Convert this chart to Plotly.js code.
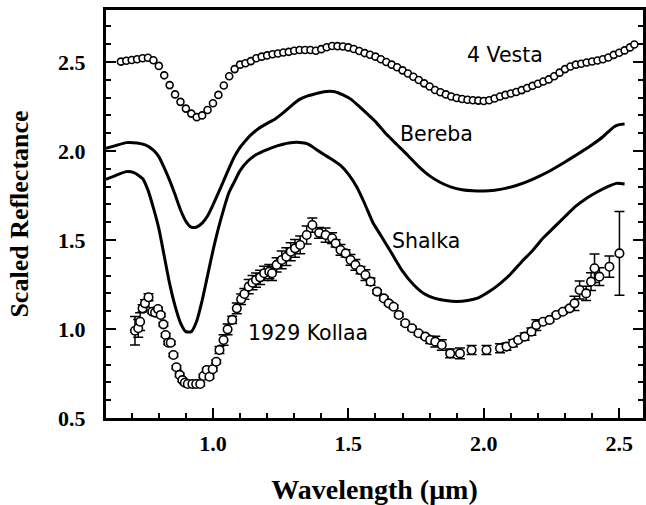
<!DOCTYPE html>
<html>
<head>
<meta charset="utf-8">
<script src="https://cdn.plot.ly/plotly-3.0.1.min.js"></script>
<style>html,body{margin:0;padding:0;background:#fff;}#chart{width:646px;height:505px;}</style>
</head>
<body>
<div id="chart"></div>
<script>
// 4 Vesta (open circles)
const vestaX = [0.66,0.68,0.70,0.72,0.74,0.76,0.78,0.80,0.82,0.84,0.86,0.88,0.90,0.92,0.94,0.96,0.98,1.00,1.02,1.04,1.06,1.08,1.10,1.12,1.14,1.16,1.18,1.20,1.22,1.24,1.26,1.28,1.30,1.32,1.34,1.36,1.38,1.40,1.42,1.44,1.46,1.48,1.50,1.52,1.54,1.56,1.58,1.60,1.62,1.64,1.66,1.68,1.70,1.72,1.74,1.76,1.78,1.80,1.82,1.84,1.86,1.88,1.90,1.92,1.94,1.96,1.98,2.00,2.02,2.04,2.06,2.08,2.10,2.12,2.14,2.16,2.18,2.20,2.22,2.24,2.26,2.28,2.30,2.32,2.34,2.36,2.38,2.40,2.42,2.44,2.46,2.48,2.50,2.52,2.54,2.556];
const vestaY = [2.502,2.507,2.511,2.515,2.521,2.524,2.510,2.478,2.425,2.370,2.318,2.276,2.238,2.210,2.190,2.200,2.230,2.268,2.315,2.368,2.420,2.460,2.485,2.493,2.505,2.521,2.530,2.537,2.543,2.548,2.553,2.557,2.563,2.567,2.567,2.567,2.563,2.572,2.583,2.590,2.589,2.587,2.582,2.573,2.562,2.550,2.541,2.530,2.515,2.500,2.485,2.470,2.453,2.435,2.417,2.399,2.380,2.362,2.343,2.330,2.318,2.306,2.298,2.292,2.288,2.285,2.283,2.281,2.285,2.295,2.306,2.315,2.323,2.331,2.342,2.354,2.366,2.378,2.390,2.402,2.420,2.440,2.460,2.475,2.485,2.490,2.497,2.503,2.508,2.515,2.525,2.540,2.552,2.565,2.582,2.598];

// Bereba (solid line)
const berebaX = [0.605,0.64,0.68,0.72,0.75,0.78,0.80,0.82,0.84,0.86,0.88,0.90,0.92,0.94,0.96,0.98,1.00,1.02,1.04,1.06,1.08,1.10,1.12,1.14,1.17,1.20,1.23,1.26,1.29,1.32,1.35,1.38,1.41,1.45,1.48,1.51,1.54,1.57,1.60,1.64,1.68,1.72,1.76,1.80,1.84,1.88,1.92,1.96,2.00,2.04,2.08,2.12,2.16,2.20,2.24,2.28,2.32,2.36,2.40,2.44,2.48,2.50,2.52];
const berebaY = [2.015,2.030,2.047,2.045,2.034,2.005,1.968,1.905,1.835,1.755,1.670,1.605,1.572,1.573,1.595,1.635,1.697,1.765,1.835,1.905,1.970,2.020,2.058,2.090,2.128,2.155,2.180,2.215,2.255,2.290,2.310,2.322,2.333,2.333,2.315,2.290,2.250,2.208,2.165,2.095,2.035,1.975,1.912,1.860,1.823,1.797,1.782,1.776,1.775,1.780,1.790,1.806,1.828,1.855,1.885,1.920,1.957,1.995,2.035,2.080,2.135,2.148,2.152];

// Shalka (solid line)
const shalkaX = [0.605,0.64,0.68,0.71,0.74,0.76,0.78,0.80,0.82,0.84,0.86,0.88,0.90,0.92,0.94,0.96,0.98,1.00,1.02,1.04,1.06,1.08,1.10,1.13,1.16,1.20,1.24,1.28,1.32,1.35,1.38,1.41,1.44,1.47,1.50,1.53,1.56,1.59,1.62,1.66,1.70,1.74,1.78,1.82,1.86,1.90,1.94,1.98,2.02,2.06,2.10,2.14,2.18,2.22,2.26,2.30,2.34,2.38,2.42,2.46,2.49,2.52];
const shalkaY = [1.841,1.862,1.884,1.877,1.845,1.780,1.680,1.565,1.410,1.255,1.130,1.035,0.985,0.985,1.045,1.160,1.300,1.440,1.565,1.675,1.770,1.830,1.890,1.945,1.980,2.008,2.030,2.045,2.048,2.040,2.010,1.980,1.952,1.920,1.870,1.800,1.705,1.600,1.525,1.425,1.325,1.250,1.198,1.172,1.160,1.155,1.160,1.175,1.210,1.255,1.310,1.378,1.440,1.512,1.572,1.632,1.690,1.735,1.771,1.801,1.818,1.815];

// 1929 Kollaa (open circles with error bars)
const kollaaX = [0.712,0.724,0.731,0.740,0.749,0.762,0.776,0.786,0.797,0.807,0.817,0.825,0.835,0.844,0.854,0.865,0.877,0.887,0.896,0.907,0.924,0.938,0.953,0.965,0.977,0.987,0.999,1.012,1.024,1.039,1.054,1.071,1.088,1.104,1.116,1.132,1.146,1.159,1.174,1.189,1.208,1.218,1.235,1.254,1.271,1.287,1.303,1.322,1.346,1.367,1.392,1.416,1.440,1.453,1.471,1.490,1.508,1.526,1.545,1.563,1.582,1.606,1.631,1.649,1.667,1.686,1.710,1.735,1.759,1.784,1.802,1.821,1.845,1.876,1.912,1.955,2.010,2.060,2.084,2.108,2.127,2.151,2.176,2.194,2.219,2.243,2.268,2.292,2.317,2.335,2.354,2.378,2.396,2.409,2.427,2.464,2.501];
const kollaaY = [0.990,1.004,1.041,1.116,1.144,1.178,1.097,1.092,1.112,1.079,1.026,0.966,0.923,0.923,0.854,0.785,0.742,0.713,0.698,0.691,0.691,0.691,0.691,0.736,0.770,0.732,0.774,0.816,0.882,0.938,0.998,1.051,1.116,1.167,1.197,1.238,1.260,1.275,1.290,1.313,1.322,1.313,1.360,1.388,1.406,1.434,1.453,1.472,1.528,1.584,1.540,1.528,1.510,1.481,1.444,1.425,1.388,1.360,1.331,1.303,1.266,1.210,1.172,1.144,1.125,1.079,1.032,1.004,0.976,0.957,0.938,0.929,0.910,0.863,0.863,0.882,0.882,0.892,0.901,0.920,0.938,0.957,0.985,1.022,1.041,1.051,1.079,1.097,1.116,1.144,1.219,1.200,1.266,1.341,1.294,1.350,1.425];
const kollaaErr = [0.08,0.05,0.05,0.02,0.02,0.02,0.01,0.01,0.01,0.01,0.01,0.01,0.01,0.01,0.01,0.01,0.01,0.01,0.01,0.01,0.01,0.01,0.01,0.01,0.01,0.01,0.01,0.01,0.02,0.03,0.03,0.02,0.03,0.03,0.03,0.04,0.04,0.04,0.04,0.04,0.04,0.04,0.04,0.05,0.05,0.05,0.05,0.05,0.05,0.04,0.03,0.04,0.03,0.02,0.03,0.02,0.03,0.03,0.02,0.03,0.02,0.01,0.01,0.01,0.01,0.01,0.01,0.01,0.01,0.01,0.02,0.03,0.03,0.025,0.03,0.025,0.025,0.025,0.02,0.02,0.01,0.02,0.02,0.03,0.01,0.01,0.01,0.01,0.01,0.04,0.05,0.04,0.05,0.08,0.05,0.06,0.235];

const labels = ['4 Vesta','Bereba','Shalka','1929 Kollaa'];
const labelX = [2.079,1.825,1.787,1.350];
const labelY = [2.537,2.093,1.494,0.980];

const xTitle = 'Wavelength (μm)';
const yTitle = 'Scaled Reflectance';

const traces = [
  {x: berebaX, y: berebaY, mode:'lines', line:{color:'#000', width:3, shape:'spline', smoothing:0.6}, hoverinfo:'skip'},
  {x: shalkaX, y: shalkaY, mode:'lines', line:{color:'#000', width:3, shape:'spline', smoothing:0.6}, hoverinfo:'skip'},
  {x: vestaX, y: vestaY, mode:'markers', marker:{symbol:'circle', size:7, color:'#fff', line:{color:'#000', width:1.6}}},
  {x: kollaaX, y: kollaaY, mode:'markers',
   error_y:{type:'data', array:kollaaErr, visible:true, color:'#000', thickness:1.5, width:5},
   marker:{symbol:'circle', size:8.5, color:'#fff', line:{color:'#000', width:1.6}}}
];

const annotations = labels.map((t,i)=>({x:labelX[i], y:labelY[i], xref:'x', yref:'y', text:t, showarrow:false,
  font:{family:'DejaVu Sans', size:20.5, color:'#000'}, xanchor:'center', yanchor:'middle'}));

const tickFont = {family:'Liberation Serif', size:22, color:'#000', weight:'bold'};
const layout = {
  width:646, height:505,
  margin:{l:106, r:0, t:10, b:87, pad:0},
  paper_bgcolor:'#fff', plot_bgcolor:'#fff',
  showlegend:false,
  xaxis:{range:[0.605,2.588], tickvals:[1.0,1.5,2.0,2.5], ticktext:['1.0','1.5','2.0','2.5'],
    ticks:'inside', ticklen:10, tickwidth:2, tickcolor:'#000',
    minor:{dtick:0.1, tick0:0, ticks:'inside', ticklen:5, tickwidth:2, tickcolor:'#000'},
    showline:true, linewidth:3, linecolor:'#000', mirror:true, showgrid:false, zeroline:false,
    tickfont:tickFont, ticklabelstandoff:4,
    title:{text:xTitle, font:{family:'Liberation Serif', size:28, color:'#000', weight:'bold'}, standoff:24}},
  yaxis:{range:[0.5,2.792], tickvals:[0.5,1.0,1.5,2.0,2.5], ticktext:['0.5','1.0','1.5','2.0','2.5'],
    ticks:'inside', ticklen:10, tickwidth:2, tickcolor:'#000',
    minor:{dtick:0.1, tick0:0, ticks:'inside', ticklen:5, tickwidth:2, tickcolor:'#000'},
    showline:true, linewidth:3, linecolor:'#000', mirror:'ticks', showgrid:false, zeroline:false,
    tickfont:tickFont, ticklabelstandoff:13, automargin:true,
    title:{text:yTitle, font:{family:'Liberation Serif', size:26, color:'#000', weight:'bold'}, standoff:22}},
  annotations: annotations
};

Plotly.newPlot('chart', traces, layout, {staticPlot:true, displayModeBar:false});
</script>
</body>
</html>
